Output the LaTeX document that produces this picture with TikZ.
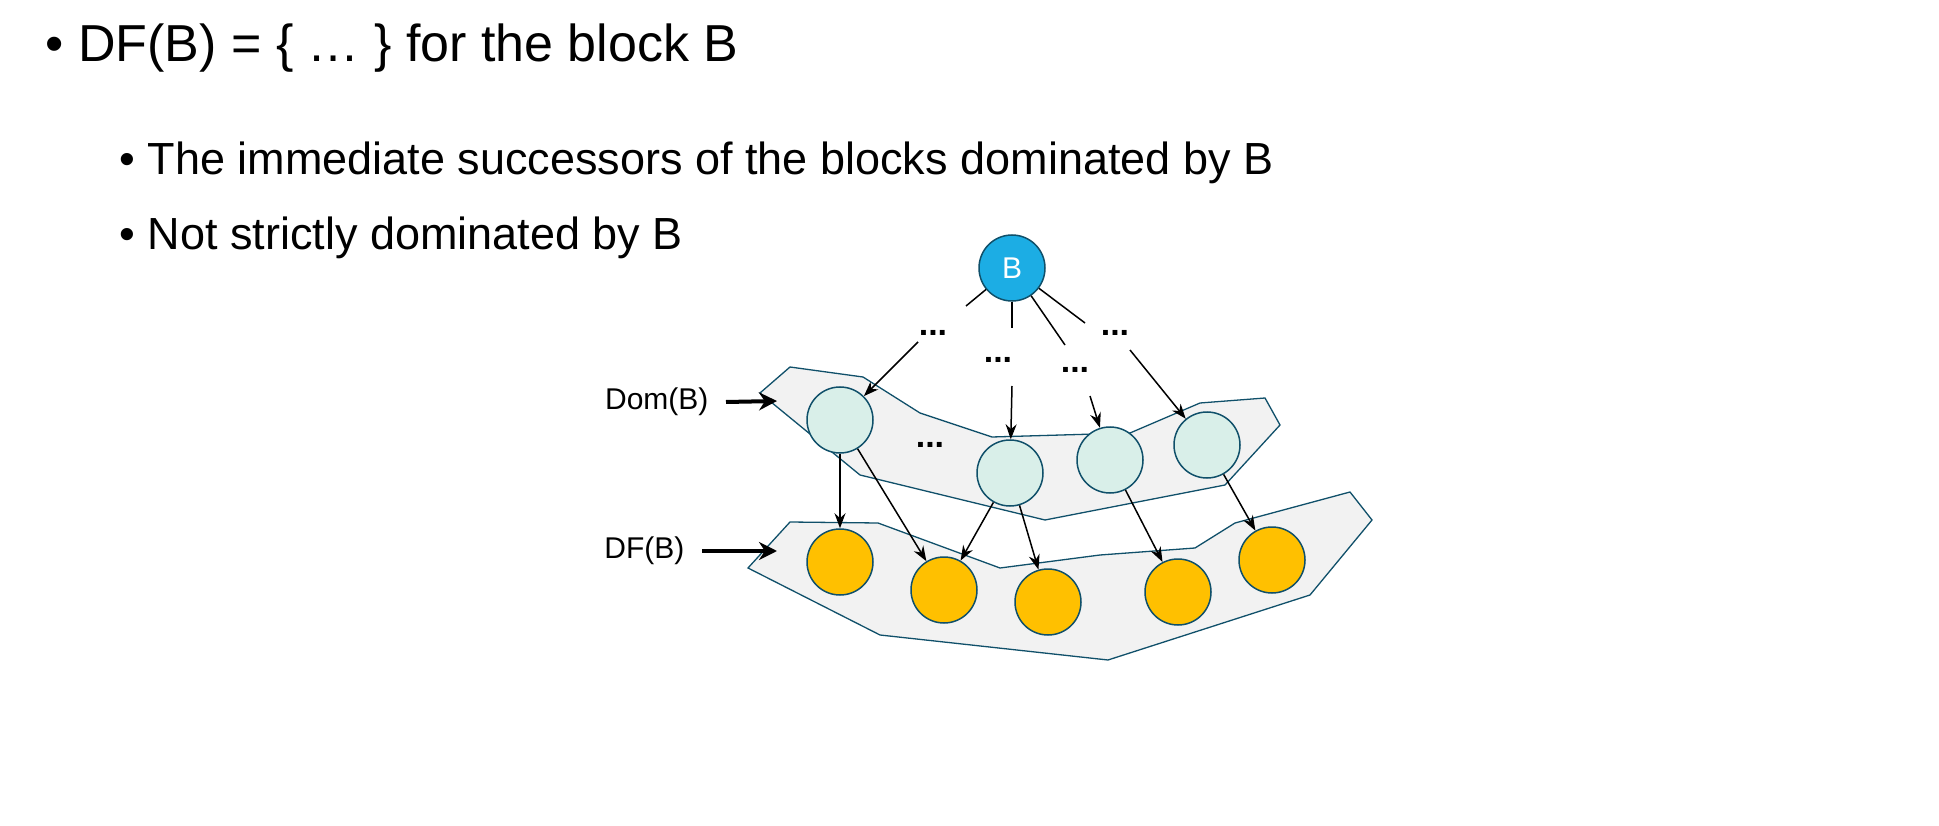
\documentclass[tikz,border=0pt]{standalone}
\usepackage{fontspec}
\setmainfont{Liberation Sans}
\usetikzlibrary{arrows.meta,backgrounds}
\definecolor{bblue}{HTML}{1CADE4}
\definecolor{domfill}{HTML}{D9EFE9}
\definecolor{dfyellow}{HTML}{FFC000}
\definecolor{edge}{HTML}{10506A}
\definecolor{regfill}{HTML}{F2F2F2}
\begin{document}
\begin{tikzpicture}[x=1pt,y=-1pt,
    blk/.style={circle, draw=edge, line width=1.5pt, minimum size=66pt, inner sep=0pt},
    dom/.style={blk, fill=domfill},
    df/.style={blk, fill=dfyellow},
    region/.style={draw=edge, fill=regfill, line width=1.3pt},
    succ/.style={-{Stealth[length=15pt,width=11pt]}, line width=1.5pt},
    dots/.style={font=\fontsize{34}{34}\selectfont\bfseries},
    lbl/.style={font=\fontsize{30}{30}\selectfont, anchor=east},
    big/.style={-{Stealth[length=18pt,width=18pt]}, line width=4pt}
    ]
    \useasboundingbox (0,0) rectangle (1939,826);

    % text
    \node[anchor=west, font=\fontsize{52}{52}\selectfont] (t1) at (42,48) {\textbullet\ DF(B) = \{ … \} for the block B};
    \node[anchor=west, font=\fontsize{45}{45}\selectfont] (t2) at (116,163) {\textbullet\ The immediate successors of the blocks dominated by B};
    \node[anchor=west, font=\fontsize{45}{45}\selectfont] (t3) at (116,238) {\textbullet\ Not strictly dominated by B};

    % regions
    \draw[region] (760,393) -- (790,367) -- (863,377) -- (920,413) -- (992,437) -- (1130,433)
        -- (1200,403) -- (1265,398) -- (1280,425) -- (1225,485) -- (1045,520) -- (860,475) -- cycle;
    \draw[region] (748,568) -- (790,522) -- (878,523) -- (1000,568) -- (1100,555) -- (1195,548)
        -- (1235,523) -- (1350,492) -- (1372,520) -- (1310,595) -- (1108,660) -- (880,635) -- cycle;

    % blocks
    \node[blk, fill=bblue, text=white, font=\fontsize{30}{30}\selectfont] (b) at (1012,268) {B};
    \node[dom] (d1) at (840,420) {};
    \node[dom] (d2) at (1010,473) {};
    \node[dom] (d3) at (1110,460) {};
    \node[dom] (d4) at (1207,445) {};
    \node[df] (f1) at (840,562) {};
    \node[df] (f2) at (944,590) {};
    \node[df] (f3) at (1048,602) {};
    \node[df] (f4) at (1178,592) {};
    \node[df] (f5) at (1272,560) {};

    % elided paths
    \node[dots] (e1) at (933,333) {...};
    \node[dots] (e2) at (998,360) {...};
    \node[dots] (e3) at (1075,370) {...};
    \node[dots] (e4) at (1115,333) {...};
    \node[dots] (e5) at (930,445) {...};
    \coordinate (c1) at (966,306);
    \coordinate (c2) at (1012,328);
    \coordinate (c3) at (1065,345);
    \coordinate (c4) at (1085,323);
    \foreach \c in {c1,c2,c3,c4}
        \draw[line width=1.5pt] (b) -- (\c);
    \coordinate (s1) at (918,342);
    \coordinate (s2) at (1012,386);
    \coordinate (s3) at (1090,396);
    \coordinate (s4) at (1130,350);
    \draw[succ] (s1) -- (d1);
    \draw[succ] (s2) -- (d2);
    \draw[succ] (s3) -- (d3);
    \draw[succ] (s4) -- (d4);

    % dominance frontier edges
    \draw[succ] (d1) -- (f1);
    \draw[succ] (d1) -- (f2);
    \draw[succ] (d2) -- (f2);
    \draw[succ] (d2) -- (f3);
    \draw[succ] (d3) -- (f4);
    \draw[succ] (d4) -- (f5);

    % labels
    \node[lbl] (domlbl) at (712,402) {Dom(B)};
    \node[lbl] (dflbl) at (688,551) {DF(B)};
    \coordinate (da) at (777,401);
    \coordinate (fa) at (777,551);
    \draw[big] (domlbl.east) ++(14,0) -- (da);
    \draw[big] (dflbl.east) ++(14,0) -- (fa);
\end{tikzpicture}
\end{document}
